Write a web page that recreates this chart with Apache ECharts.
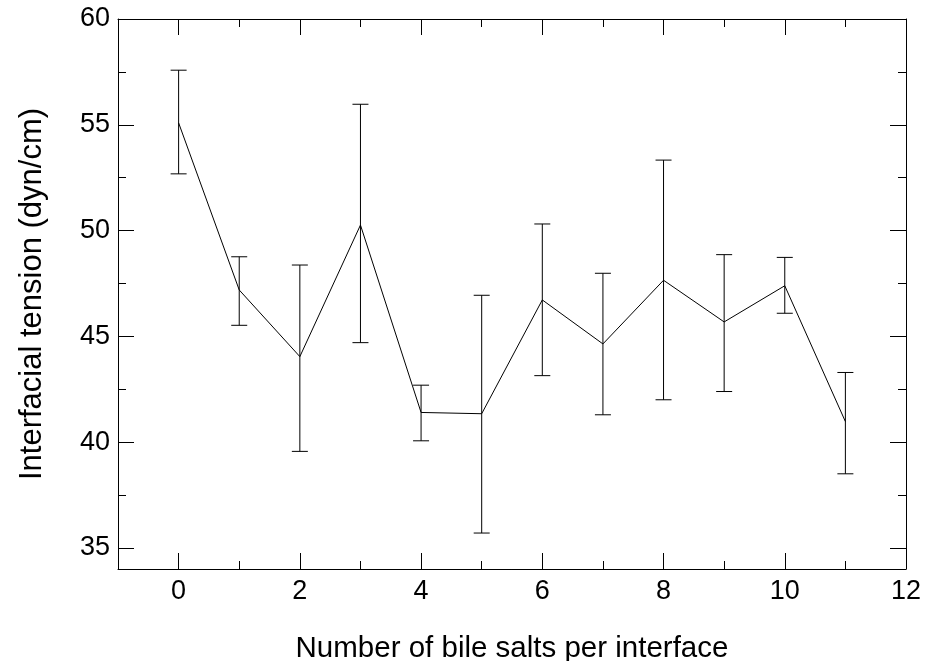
<!DOCTYPE html>
<html>
<head>
<meta charset="utf-8">
<script src="https://cdn.jsdelivr.net/npm/echarts@6/dist/echarts.min.js"></script>
<style>
  html, body { margin: 0; padding: 0; background: #fff; }
  #chart { width: 934px; height: 661px; }
</style>
</head>
<body>
<div id="chart"></div>
<script>
// number of bile salts per interface
const saltCounts = [0, 1, 2, 3, 4, 5, 6, 7, 8, 9, 10, 11];
// mean interfacial tension (dyn/cm)
const tension = [55.09, 47.19, 44.04, 50.26, 41.40, 41.34, 46.72, 44.64, 47.65, 45.68, 47.39, 40.97];
// error bar ends
const upperErr = [57.58, 48.76, 48.37, 55.97, 42.69, 46.94, 50.31, 47.98, 53.33, 48.86, 48.73, 43.29];
const lowerErr = [52.68, 45.52, 39.56, 44.70, 40.06, 35.70, 43.14, 41.29, 42.00, 42.39, 46.09, 38.50];

const xMajor = [0, 2, 4, 6, 8, 10, 12];
const xMinor = [1, 3, 5, 7, 9, 11];
const yMajor = [35, 40, 45, 50, 55, 60];
const yMinor = [37.5, 42.5, 47.5, 52.5, 57.5];

const font = "'Liberation Sans', Arial, Helvetica, sans-serif";
const black = '#000';

let chart = echarts.init(document.getElementById('chart'));

// one axis per tick length, so the frame gets long major and short minor ticks
function axisDef(pos, min, max, ticks, len, withLabel, withLine) {
  return {
    type: 'value', position: pos, min: min, max: max,
    axisLine: { show: withLine, onZero: false, lineStyle: { color: black, width: 1 } },
    axisTick: { show: true, inside: true, length: len, customValues: ticks, lineStyle: { color: black, width: 1 } },
    axisLabel: withLabel
      ? { show: true, customValues: ticks, margin: 9, color: black, fontSize: 27, fontFamily: font }
      : { show: false },
    splitLine: { show: false }
  };
}

let xBottom = axisDef('bottom', -1, 12, xMajor, 16, true, false);
xBottom.name = 'Number of bile salts per interface';
xBottom.nameLocation = 'middle';
xBottom.nameGap = 65;
xBottom.nameTextStyle = { color: black, fontSize: 29.5, fontFamily: font };

let yLeft = axisDef('left', 34, 60, yMajor, 16, true, false);
yLeft.axisLabel.margin = 8;
yLeft.name = 'Interfacial tension (dyn/cm)';
yLeft.nameLocation = 'middle';
yLeft.nameGap = 70;
yLeft.nameTextStyle = { color: black, fontSize: 31, fontFamily: font };

let lineData = saltCounts.map((x, i) => [x, tension[i]]);
let errData = saltCounts.map((x, i) => [x, lowerErr[i], upperErr[i]]);

let option = {
  animation: false,
  backgroundColor: '#fff',
  grid: { left: 118, right: 28, top: 19, bottom: 92, outerBoundsMode: 'none', containLabel: false },
  xAxis: [
    axisDef('bottom', -1, 12, xMinor, 8, false, true),
    xBottom,
    axisDef('top', -1, 12, xMinor, 8, false, true),
    axisDef('top', -1, 12, xMajor, 16, false, false)
  ],
  yAxis: [
    axisDef('left', 34, 60, yMinor, 8, false, true),
    yLeft,
    axisDef('right', 34, 60, yMinor, 8, false, true),
    axisDef('right', 34, 60, yMajor, 16, false, false)
  ],
  series: [
    {
      type: 'line',
      data: lineData,
      symbol: 'none',
      lineStyle: { color: black, width: 1 },
      z: 3
    },
    {
      type: 'custom',
      data: errData,
      renderItem: function (params, api) {
        let x = api.value(0);
        let lo = api.coord([x, api.value(1)]);
        let hi = api.coord([x, api.value(2)]);
        let half = 8;
        let style = { stroke: black, lineWidth: 1 };
        return {
          type: 'group',
          children: [
            { type: 'line', shape: { x1: hi[0], y1: hi[1], x2: lo[0], y2: lo[1] }, style: style },
            { type: 'line', shape: { x1: hi[0] - half, y1: hi[1], x2: hi[0] + half, y2: hi[1] }, style: style },
            { type: 'line', shape: { x1: lo[0] - half, y1: lo[1], x2: lo[0] + half, y2: lo[1] }, style: style }
          ]
        };
      },
      z: 2
    }
  ]
};

chart.setOption(option);
</script>
</body>
</html>
